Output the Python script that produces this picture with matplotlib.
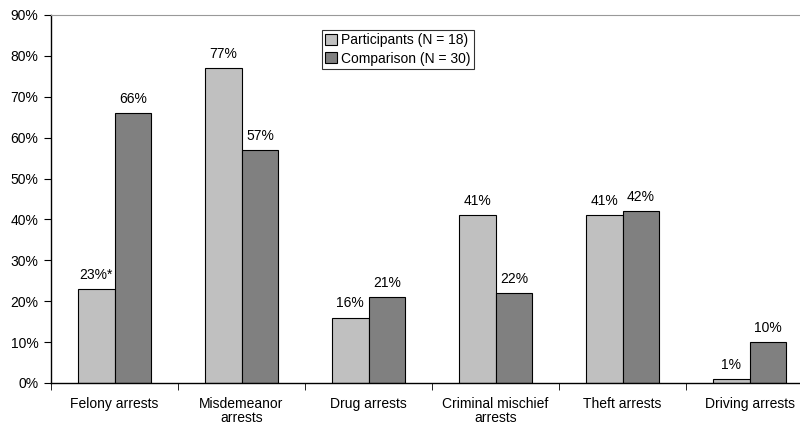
import matplotlib
matplotlib.use("Agg")
import matplotlib.pyplot as plt
import numpy as np

plt.rcParams["font.family"] = ["Liberation Sans", "DejaVu Sans"]

categories = ["Felony arrests", "Misdemeanor\narrests", "Drug arrests",
              "Criminal mischief\narrests", "Theft arrests", "Driving arrests"]
participants = [23, 77, 16, 41, 41, 1]
comparison = [66, 57, 21, 22, 42, 10]
participant_labels = ["23%*", "77%", "16%", "41%", "41%", "1%"]
comparison_labels = ["66%", "57%", "21%", "22%", "42%", "10%"]

FS = 10

fig = plt.figure(figsize=(8, 4.28), dpi=100)
ax = fig.add_axes([51 / 800, 45 / 428, 762 / 800, 368 / 428])

x = np.arange(len(categories))
width = 0.29
b1 = ax.bar(x - width / 2, participants, width, color="#C0C0C0", edgecolor="black",
            linewidth=0.8, label="Participants (N = 18)")
b2 = ax.bar(x + width / 2, comparison, width, color="#808080", edgecolor="black",
            linewidth=0.8, label="Comparison (N = 30)")

for rect, lab in zip(b1, participant_labels):
    ax.text(rect.get_x() + rect.get_width() / 2, rect.get_height() + 1.8, lab,
            ha="center", va="bottom", fontsize=FS)
for rect, lab in zip(b2, comparison_labels):
    ax.text(rect.get_x() + rect.get_width() / 2, rect.get_height() + 1.8, lab,
            ha="center", va="bottom", fontsize=FS)

ax.set_xlim(-0.5, len(categories) - 0.5)
ax.set_ylim(0, 90)
ax.set_yticks(range(0, 91, 10))
ax.set_yticklabels([f"{v}%" for v in range(0, 91, 10)], fontsize=FS)

# category labels centred, tick marks on the category boundaries
ax.set_xticks(x)
ax.set_xticklabels(categories, fontsize=FS, linespacing=1.0)
ax.tick_params(axis="x", length=0, pad=10)
ax.set_xticks(np.arange(len(categories)) - 0.5, minor=True)
ax.tick_params(axis="x", which="minor", length=5, direction="out")
ax.tick_params(axis="y", length=5, direction="out", pad=4)

ax.spines["right"].set_visible(False)
ax.spines["top"].set_color("#999999")
for s in ("left", "bottom"):
    ax.spines[s].set_linewidth(1.0)

leg = ax.legend(loc="upper left", bbox_to_anchor=(271 / 762, 1 - 15 / 368),
                fontsize=FS, frameon=True, fancybox=False, edgecolor="black",
                handlelength=0.8, handleheight=0.8, handletextpad=0.3,
                borderpad=0.25, labelspacing=0.3, borderaxespad=0)
leg.get_frame().set_linewidth(0.8)

fig.savefig("out.png", dpi=100)
